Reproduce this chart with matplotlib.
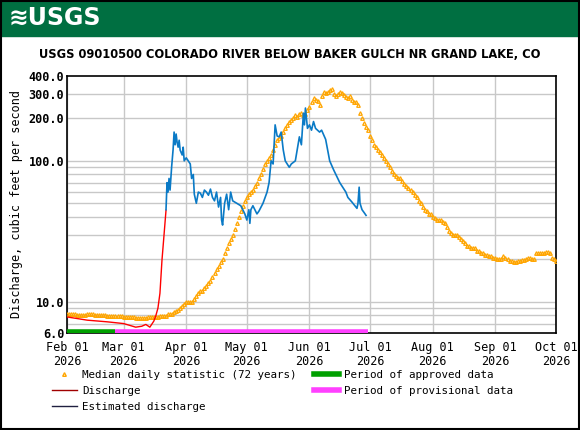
import numpy as np
import matplotlib
matplotlib.use("Agg")
import matplotlib.pyplot as plt
from matplotlib.lines import Line2D
from matplotlib.patches import Rectangle

start = np.datetime64("2026-02-01")
median = ([8.2]*5+[8.1]*5+[8.2]*4+[8.0]*6+[7.9]*8 +
          [7.8]*6+[7.7]*6+[7.8]*6+[7.9]*4+[8.2]*3+[8.4,8.6,8.8,9.0,9.3,9.6] +
          [10]*4+[10.5,11,11.5,12,12,12.5,13,13.5,14,15,16,17,18,19,20,22,24,26,28,30,33,36,40,44,48,52] +
          [55,58,60,62,66,70,75,80,88,95,100,105,110,120,130,140,145,150,160,170,180,190,195,200,210,205,215,220,210,215,230] +
          [240,260,280,270,265,250,290,310,305,310,320,325,300,290,300,310,305,295,285,280,290,270,260,260,250,220,200,185,175,165] +
          [150,140,130,125,120,115,110,105,100,95,90,85,80,78,76,75,72,68,66,64,62,60,57,55,52,50,47,45,44,42,42] +
          [40,39,38,38,38,37,36,34,32,31,30,30,30,29,28,27,26,25,25,24,24,24,23,23,22,22,21.5,21.5,21,21,20.5] +
          [20.5,20,20,20,21,20.5,20,19.5,19.5,19.2,19.2,19.5,19.5,19.8,19.8,20,20.5,20.5,20,20,22,22,22,22,22,22.5,22.5,22,20.5,20] +
          [19.5])
median_days = start + np.arange(len(median))

red_day = [0,5,10,15,20,24,28,31,34,37,39,41,43,44,45,46,47,48,49]
red_val = [7.8,7.6,7.4,7.3,7.2,7.1,7.0,6.8,6.6,6.7,6.9,6.6,7.3,8.0,9.0,11.5,19.7,29.6,44.6]
blue_day = [49,49.5,50,50.5,51,51.8,52.5,53,53.5,54,54.5,55,55.5,56,57,57.5,58,59,60,61,61.7,62.5,63,64,65,66,67,68,69,70,71,72,73,74,75,76,76.5,77,78,79,80,81,82,84,86,87,88,89,90,90.5,91,92,94,95,97,99,100,101,102,103,104,105,106,107,108,110,111,113,115,116,117,117.5,118,119,120,121,122,123,125,126,128,130,132,135,138,139,141,143.5,144,144.6,145,146,147,148]
blue_val = [45,70,60,75,62,91,120,160,130,155,135,125,140,119,110,125,100,105,100,95,75,80,58,50,60,59,55,62,60,57,63,55,52,60,47,55,38,35,50,58,45,60,52,50,48,45,42,38,45,36,45,48,42,44,50,60,70,100,95,180,150,148,160,120,100,90,95,100,148,130,218,180,237,170,180,165,190,170,160,165,142,100,86,70,60,55,51,46,50,65,50,45,43,41]

ticks = [np.datetime64(f"2026-{m:02d}-01") for m in range(2, 11)]
tick_labels = ["Feb 01\n2026","Mar 01\n2026","Apr 01\n2026","May 01\n2026","Jun 01\n2026",
               "Jul 01\n2026","Aug 01\n2026","Sep 01\n2026","Oct 01\n2026"]
ytick_vals = [6, 10, 100, 200, 300, 400]
ytick_labels = ["6.0", "10.0", "100.0", "200.0", "300.0", "400.0"]
grid_vals = [7,8,9,10,20,30,40,50,60,70,80,90,100,200,300]

mono = "DejaVu Sans Mono"
fig = plt.figure(figsize=(5.8, 4.3), dpi=100)
fig.patches.append(Rectangle((0, 1-36/430), 1, 36/430, transform=fig.transFigure, color="#006F41", zorder=0))
fig.patches.append(Rectangle((0.002, 0.002), 0.996, 0.996, transform=fig.transFigure, fill=False, ec="black", lw=1.5))
fig.text(0.015, 1-18/430, "≋USGS", color="white", fontsize=17, fontweight="bold", va="center", family="DejaVu Sans")
fig.text(0.5, 1-54/430, "USGS 09010500 COLORADO RIVER BELOW BAKER GULCH NR GRAND LAKE, CO",
         ha="center", va="center", fontsize=8.3, fontweight="bold", family="DejaVu Sans Condensed")

ax = fig.add_axes([67/580, 1-333/430, (556-67)/580, (333-76)/430])
ax.set_yscale("log")
ax.set_ylim(6, 400)
ax.set_xlim(start, np.datetime64("2026-10-01"))
for g in grid_vals:
    ax.axhline(g, color="#c8c8c8", lw=1, zorder=0)
for t in ticks:
    ax.axvline(t, color="#c8c8c8", lw=1, zorder=0)
ax.minorticks_off()
ax.set_yticks(ytick_vals)
ax.set_yticklabels(ytick_labels, family=mono, fontweight="bold", fontsize=8.5)
ax.set_xticks(ticks)
ax.set_xticklabels(tick_labels, family=mono, fontsize=8.5, linespacing=1.1)
ax.tick_params(axis="y", length=0, pad=2)
ax.tick_params(axis="x", length=0, pad=6)
ax.set_ylabel("Discharge, cubic feet per second", family=mono, fontsize=8.5, labelpad=4)

ax.plot(median_days, median, ls="none", marker="^", ms=2.6, mfc="none", mec="orange", mew=0.9, zorder=3)
ax.plot(start + (np.array(red_day)*24).astype("timedelta64[h]"), red_val, color="red", lw=1, zorder=4)
ax.plot(start + (np.array(blue_day)*24).astype("timedelta64[h]"), blue_val, color="#0a7ac6", lw=1.2, zorder=4)
ax.plot([start, np.datetime64("2026-02-25")], [6.1, 6.1], color="#00a000", lw=4, solid_capstyle="butt", zorder=5)
ax.plot([np.datetime64("2026-02-25"), np.datetime64("2026-06-30")], [6.1, 6.1], color="#ff40ff", lw=4, solid_capstyle="butt", zorder=5)
for s in ax.spines.values():
    s.set_color("black"); s.set_linewidth(1.2)

prop = {"family": mono, "size": 7.8}
h1 = [Line2D([], [], ls="none", marker="^", ms=2.6, mfc="none", mec="orange"),
      Line2D([], [], color="#a00000", lw=1),
      Line2D([], [], color="#202040", lw=1)]
l1 = ["Median daily statistic (72 years)", "Discharge", "Estimated discharge"]
h2 = [Line2D([], [], color="#00a000", lw=4), Line2D([], [], color="#ff40ff", lw=4)]
l2 = ["Period of approved data", "Period of provisional data"]
fig.legend(h1, l1, loc="upper left", bbox_to_anchor=(52/580, 1-370/430), frameon=False, prop=prop,
           handlelength=2.3, labelspacing=0.55, handletextpad=0.5, borderaxespad=0, borderpad=0)
fig.legend(h2, l2, loc="upper left", bbox_to_anchor=(314/580, 1-370/430), frameon=False, prop=prop,
           handlelength=2.3, labelspacing=0.55, handletextpad=0.5, borderaxespad=0, borderpad=0)
fig.savefig("out.png", dpi=100)
